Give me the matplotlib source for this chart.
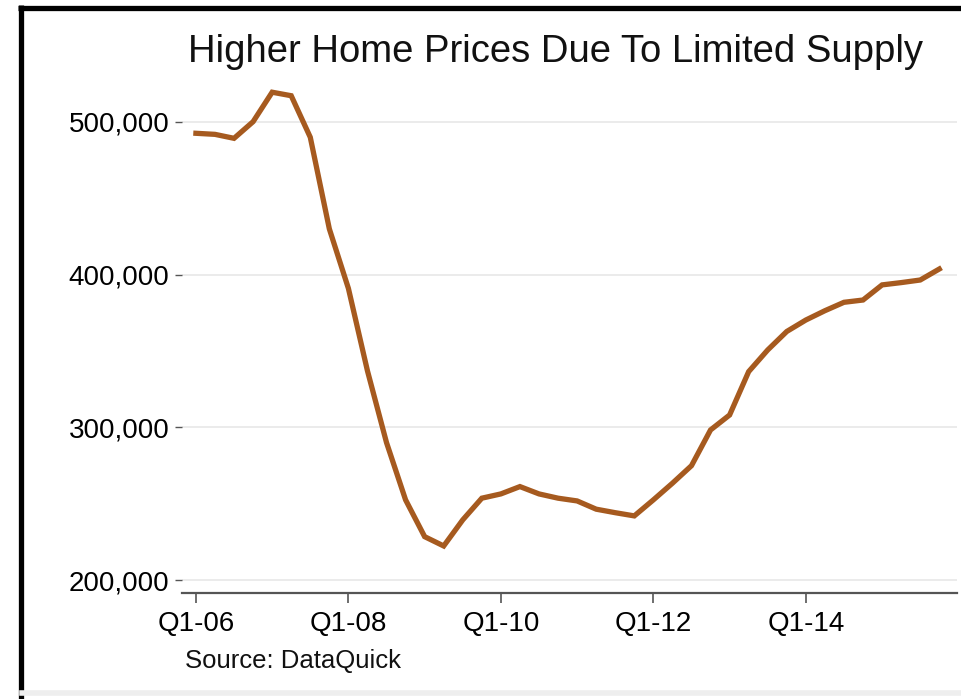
import matplotlib
matplotlib.use("Agg")
import matplotlib.pyplot as plt
from matplotlib.lines import Line2D
from matplotlib.ticker import FuncFormatter

plt.rcParams['font.family'] = ['Liberation Sans', 'DejaVu Sans']

# median home price by quarter, Q1-06 .. Q4-15
quarters = list(range(40))
prices = [492600, 491900, 489300, 500200, 519500, 517200, 490000, 430000,
          391000, 337000, 290000, 252500, 228400, 222300, 239400, 253600,
          256400, 261200, 256400, 253600, 251800, 246400, 244100, 242000,
          252500, 263400, 274900, 298300, 308100, 336500, 350700, 362800,
          370300, 376400, 381900, 383400, 393300, 394800, 396500, 403700]
tick_pos = [0, 8, 16, 24, 32]
tick_labels = ['Q1-06', 'Q1-08', 'Q1-10', 'Q1-12', 'Q1-14']
y_ticks = [200000, 300000, 400000, 500000]

W, H = 961, 699
fig = plt.figure(figsize=(W / 100, H / 100), dpi=100)
fig.patch.set_facecolor('white')

ax = fig.add_axes([182 / W, 1 - 593 / H, (957 - 182) / W, (593 - 80) / H])
ax.plot(quarters, prices, color='#a65a1f', lw=3.8, solid_joinstyle='miter')

ax.set_xlim(-0.73, 39.93)
ax.set_ylim(191500, 527500)
ax.set_xticks(tick_pos)
ax.set_xticklabels(tick_labels)
ax.set_yticks(y_ticks)
ax.yaxis.set_major_formatter(FuncFormatter(lambda v, p: f'{int(v):,}'))
ax.grid(axis='y', color='#ebebeb', lw=1.4)
ax.set_axisbelow(True)

for s in ['top', 'right', 'left']:
    ax.spines[s].set_visible(False)
ax.spines['bottom'].set_color('#555555')
ax.spines['bottom'].set_linewidth(1.6)

ax.tick_params(axis='x', length=7, width=1.2, color='#555555', labelsize=20, pad=6)
ax.tick_params(axis='y', length=5, width=1.0, color='#555555', labelsize=20, pad=4)

fig.text(555 / W, 1 - 52 / H, 'Higher Home Prices Due To Limited Supply',
         ha='center', va='center', fontsize=27.5, color='#111111')
fig.text(185 / W, 1 - 661 / H, 'Source: DataQuick',
         ha='left', va='center', fontsize=18.5, color='#111111')

# black frame on top and left like the screenshot
fig.add_artist(Line2D([18 / W, 1], [1 - 7.5 / H, 1 - 7.5 / H], color='black', lw=3.8,
                      transform=fig.transFigure, solid_capstyle='butt'))
fig.add_artist(Line2D([20.5 / W, 20.5 / W], [1 - 5 / H, 0], color='black', lw=3.8,
                      transform=fig.transFigure, solid_capstyle='butt'))
fig.add_artist(Line2D([22 / W, 1], [1 - 693 / H, 1 - 693 / H], color='#eeeeee', lw=4,
                      transform=fig.transFigure))

fig.savefig('out.png', dpi=100)
